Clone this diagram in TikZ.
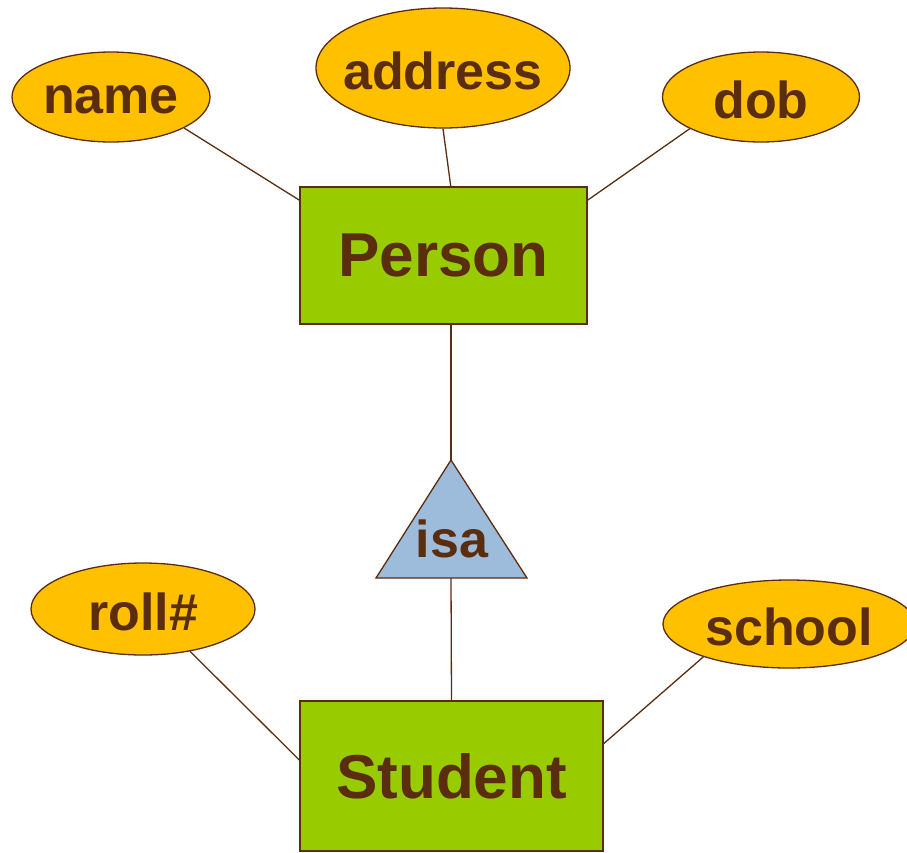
\documentclass[tikz,border=0pt]{standalone}
\usepackage{fontspec}
\setmainfont{Liberation Sans}
\usetikzlibrary{shapes.geometric}
\definecolor{erbrown}{HTML}{5A2D0E}
\definecolor{attrorange}{HTML}{FFC000}
\definecolor{entgreen}{HTML}{99CC00}
\definecolor{isablue}{HTML}{9DBBDB}
\begin{document}
\begin{tikzpicture}[x=1pt,y=-1pt,
			every node/.style = {text=erbrown, inner sep=0pt,
				font=\bfseries\fontsize{52}{60}\selectfont},
			every label/.style={yshift=-3pt},
			attr/.style={ellipse, draw=erbrown, fill=attrorange, line width=1.3pt},
			entity/.style={rectangle, draw=erbrown, fill=entgreen, line width=1.3pt,
				font=\bfseries\fontsize{62}{70}\selectfont},
			link/.style={draw=erbrown, line width=1.3pt}]
			\useasboundingbox (0,0) rectangle (907,852);
			\node[entity, minimum width=287pt, minimum height=137pt] (person) at (443.5,255.5) {Person};
			\node[entity, minimum width=303pt, minimum height=150pt] (student) at (451.5,776) {Student};
			\node[attr, minimum width=198pt, minimum height=90pt, label=center:name] (name) at (111,97) {};
			\node[attr, minimum width=254pt, minimum height=120pt, label=center:address] (address) at (443,68) {};
			\node[attr, minimum width=197pt, minimum height=90pt, label=center:dob] (dob) at (761,97) {};
			\node[attr, minimum width=224pt, minimum height=92pt, label=center:roll\#] (roll) at (143,609) {};
			\node[attr, minimum width=252pt, minimum height=88pt, label=center:school] (school) at (789,624) {};
			\draw[link, fill=isablue] (451,460) coordinate (isatop) -- (527,578) -- (376,578) -- cycle;
			\coordinate (isabot) at (451,578);
			\node (isa) at (452,539) {isa};
			\draw[link] (name.-23) -- (person.159);
			\draw[link] (address.south) -- (person.84);
			\draw[link] (dob.-156) -- (person.21);
			\draw[link] (person.south -| isatop) -- (isatop);
			\draw[link] (isabot) -- (student.north);
			\draw[link] (roll.-42) -- (student.174);
			\draw[link] (school.-159) -- (student.12);
		\end{tikzpicture}
\end{document}
